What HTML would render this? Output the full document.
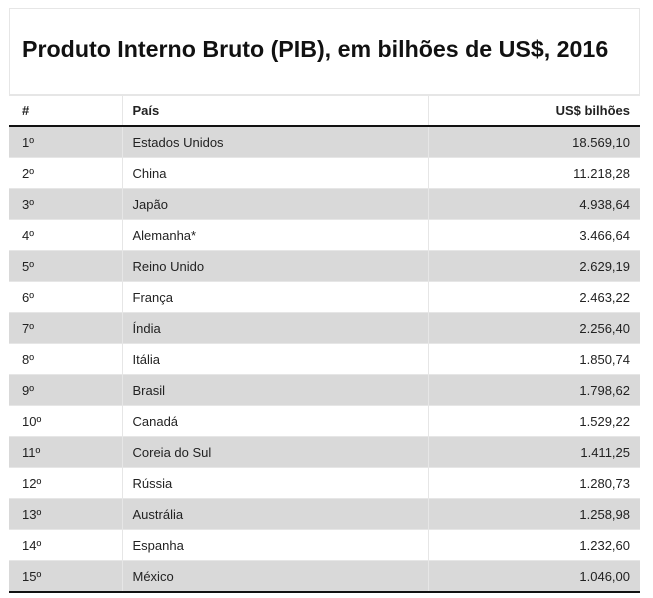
<!DOCTYPE html>
<html><head><meta charset="utf-8"><style>
body{margin:0;background:#fff;width:653px;height:598px;overflow:hidden;font-family:"Liberation Sans",sans-serif;}
.box{position:absolute;left:9px;top:8px;width:631px;height:87px;border:1px solid #e6e6e6;box-sizing:border-box;}
h1{position:absolute;left:22px;top:36px;margin:0;font-size:23.2px;font-weight:bold;color:#111;}
table{position:absolute;left:9px;top:95px;width:631px;border-collapse:collapse;font-size:13px;color:#222;}
td,th{height:30px;padding:0 10px 0 13px;border-right:1px solid #e6e6e6;border-top:1px solid #e6e6e6;}
td:nth-child(2),th:nth-child(2){padding-left:10px;}
th{font-weight:bold;text-align:left;border-bottom:2px solid #111;height:29px;border-top:1px solid #e6e6e6;}
th:last-child,td:last-child{text-align:right;border-right:none;}
tr:nth-child(odd) td{background:#d9d9d9;}
tr:last-child td{border-bottom:2px solid #111;}
</style></head><body>
<div class="box"></div>
<h1>Produto Interno Bruto (PIB), em bilhões de US$, 2016</h1>
<table>
<colgroup><col style="width:113px"><col style="width:306px"><col></colgroup>
<thead><tr><th>#</th><th>País</th><th>US$ bilhões</th></tr></thead>
<tbody>
<tr><td>1º</td><td>Estados Unidos</td><td>18.569,10</td></tr>
<tr><td>2º</td><td>China</td><td>11.218,28</td></tr>
<tr><td>3º</td><td>Japão</td><td>4.938,64</td></tr>
<tr><td>4º</td><td>Alemanha*</td><td>3.466,64</td></tr>
<tr><td>5º</td><td>Reino Unido</td><td>2.629,19</td></tr>
<tr><td>6º</td><td>França</td><td>2.463,22</td></tr>
<tr><td>7º</td><td>Índia</td><td>2.256,40</td></tr>
<tr><td>8º</td><td>Itália</td><td>1.850,74</td></tr>
<tr><td>9º</td><td>Brasil</td><td>1.798,62</td></tr>
<tr><td>10º</td><td>Canadá</td><td>1.529,22</td></tr>
<tr><td>11º</td><td>Coreia do Sul</td><td>1.411,25</td></tr>
<tr><td>12º</td><td>Rússia</td><td>1.280,73</td></tr>
<tr><td>13º</td><td>Austrália</td><td>1.258,98</td></tr>
<tr><td>14º</td><td>Espanha</td><td>1.232,60</td></tr>
<tr><td>15º</td><td>México</td><td>1.046,00</td></tr>
</tbody></table>
</body></html>
